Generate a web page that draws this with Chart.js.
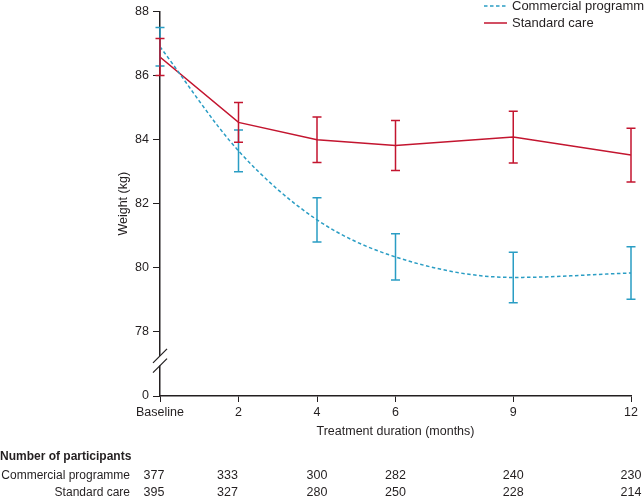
<!DOCTYPE html>
<html lang="en">
<head>
  <meta charset="UTF-8">
  <title>Weight over treatment duration</title>
  <script src="https://cdn.jsdelivr.net/npm/chart.js@4"></script>
  <style>
    html, body { margin: 0; padding: 0; background: #fff; }
    #wrap { position: relative; width: 644px; height: 498px; }
  </style>
</head>
<body>
  <div id="wrap"><canvas id="weightChart"></canvas></div>

  <script>
    // months since baseline (0 = Baseline)
    const months = [0, 2, 4, 6, 9, 12];
    const tickLabels = ['Baseline', '2', '4', '6', '9', '12'];

    // mean weight (kg) and error bar half-width
    const commercialMean = [86.9, 83.65, 81.5, 80.34, 79.7, 79.84];
    const commercialErr = [0.6, 0.65, 0.69, 0.72, 0.79, 0.82];
    const standardMean = [86.58, 84.54, 84.0, 83.82, 84.08, 83.52];
    const standardErr = [0.58, 0.62, 0.71, 0.78, 0.81, 0.84];

    // numbers at risk
    const commercialN = [377, 333, 300, 282, 240, 230];
    const standardN = [395, 327, 280, 250, 228, 214];

    const blue = '#2a9dc4';
    const red = '#c3152f';
    const ink = '#231f20';
    const font = '"Liberation Sans", Arial, sans-serif';
    const fs = 12.5;

    const toPoints = (ys) => months.map((m, i) => ({ x: m, y: ys[i] }));

    // error bars, axis break, legend, titles and participant table
    const extras = {
      id: 'extras',
      afterDatasetsDraw(chart) {
        const { ctx, scales: { x, y } } = chart;
        chart.data.datasets.forEach(ds => {
          ctx.save();
          ctx.strokeStyle = ds.borderColor;
          ctx.lineWidth = 1.5;
          ds.data.forEach((p, i) => {
            const px = x.getPixelForValue(p.x);
            const top = y.getPixelForValue(p.y + ds.err[i]);
            const bot = y.getPixelForValue(p.y - ds.err[i]);
            ctx.beginPath();
            ctx.moveTo(px, top); ctx.lineTo(px, bot);
            ctx.moveTo(px - 4.5, top); ctx.lineTo(px + 4.5, top);
            ctx.moveTo(px - 4.5, bot); ctx.lineTo(px + 4.5, bot);
            ctx.stroke();
          });
          ctx.restore();
        });
      },
      afterDraw(chart) {
        const { ctx, chartArea, scales: { x, y } } = chart;
        ctx.save();

        // axis break
        const ax = chartArea.left;
        const b1 = y.getPixelForValue(77.25);
        const b2 = y.getPixelForValue(76.95);
        ctx.fillStyle = '#fff';
        ctx.fillRect(ax - 2, b1, 4, b2 - b1);
        ctx.strokeStyle = ink;
        ctx.lineWidth = 1.2;
        [b1, b2].forEach(by => {
          ctx.beginPath();
          ctx.moveTo(ax - 7, by + 7);
          ctx.lineTo(ax + 7, by - 7);
          ctx.stroke();
        });

        // legend
        ctx.lineWidth = 1.5;
        ctx.strokeStyle = blue;
        ctx.setLineDash([3.5, 2.5]);
        ctx.beginPath(); ctx.moveTo(484, 6); ctx.lineTo(507, 6); ctx.stroke();
        ctx.setLineDash([]);
        ctx.strokeStyle = red;
        ctx.beginPath(); ctx.moveTo(484, 23); ctx.lineTo(507, 23); ctx.stroke();
        ctx.fillStyle = ink;
        ctx.font = '13px ' + font;
        ctx.textBaseline = 'middle';
        ctx.textAlign = 'left';
        ctx.fillText('Commercial programme', 512, 6);
        ctx.fillText('Standard care', 512, 23);

        // axis titles
        ctx.font = fs + 'px ' + font;
        ctx.textAlign = 'center';
        ctx.fillText('Treatment duration (months)', (chartArea.left + chartArea.right) / 2, 432);
        ctx.save();
        ctx.translate(124, (chartArea.top + chartArea.bottom) / 2);
        ctx.rotate(-Math.PI / 2);
        ctx.fillText('Weight (kg)', 0, 0);
        ctx.restore();

        // number of participants
        ctx.textAlign = 'left';
        ctx.font = 'bold 12px ' + font;
        ctx.fillText('Number of participants', 0, 457);
        ctx.font = '12px ' + font;
        ctx.textAlign = 'right';
        ctx.fillText('Commercial programme', 130, 476);
        ctx.fillText('Standard care', 130, 493);
        ctx.font = fs + 'px ' + font;
        ctx.textAlign = 'center';
        months.forEach((m, i) => {
          const px = x.getPixelForValue(m) - (i === 0 ? 6 : (i === 1 ? 11 : 0));
          ctx.fillText(String(commercialN[i]), px, 476);
          ctx.fillText(String(standardN[i]), px, 493);
        });
        ctx.restore();
      }
    };

    const ctx = document.getElementById('weightChart').getContext('2d');
    new Chart(ctx, {
      type: 'line',
      data: {
        datasets: [
          {
            label: 'Commercial programme',
            data: toPoints(commercialMean),
            err: commercialErr,
            borderColor: blue,
            borderWidth: 1.5,
            borderDash: [3.5, 2.5],
            cubicInterpolationMode: 'monotone',
            pointRadius: 0,
            fill: false,
          },
          {
            label: 'Standard care',
            data: toPoints(standardMean),
            err: standardErr,
            borderColor: red,
            borderWidth: 1.5,
            pointRadius: 0,
            fill: false,
          },
        ],
      },
      options: {
        responsive: true,
        maintainAspectRatio: false,
        animation: false,
        layout: { padding: { top: 7, right: 13, left: 0, bottom: 0 } },
        plugins: {
          legend: { display: false },
          tooltip: { enabled: false },
        },
        scales: {
          x: {
            type: 'linear',
            min: 0,
            max: 12,
            afterBuildTicks: (scale) => { scale.ticks = months.map(v => ({ value: v })); },
            afterFit: (scale) => { scale.height = 102; },
            grid: { drawOnChartArea: false, tickLength: 6, color: ink, tickColor: ink },
            border: { color: ink, width: 1.5 },
            ticks: {
              color: ink,
              font: { family: font, size: fs },
              padding: 3,
              maxRotation: 0,
              autoSkip: false,
              callback: (v) => tickLabels[months.indexOf(v)],
            },
          },
          y: {
            min: 76,
            max: 88,
            afterFit: (scale) => { scale.width = 160; },
            afterBuildTicks: (scale) => { scale.ticks = [76, 78, 80, 82, 84, 86, 88].map(v => ({ value: v })); },
            grid: { drawOnChartArea: false, tickLength: 7, color: ink, tickColor: ink },
            border: { color: ink, width: 1.5 },
            ticks: {
              color: ink,
              font: { family: font, size: fs },
              padding: 4,
              callback: (v) => (v === 76 ? '0' : String(v)),
            },
          },
        },
      },
      plugins: [extras],
    });
  </script>
</body>
</html>
